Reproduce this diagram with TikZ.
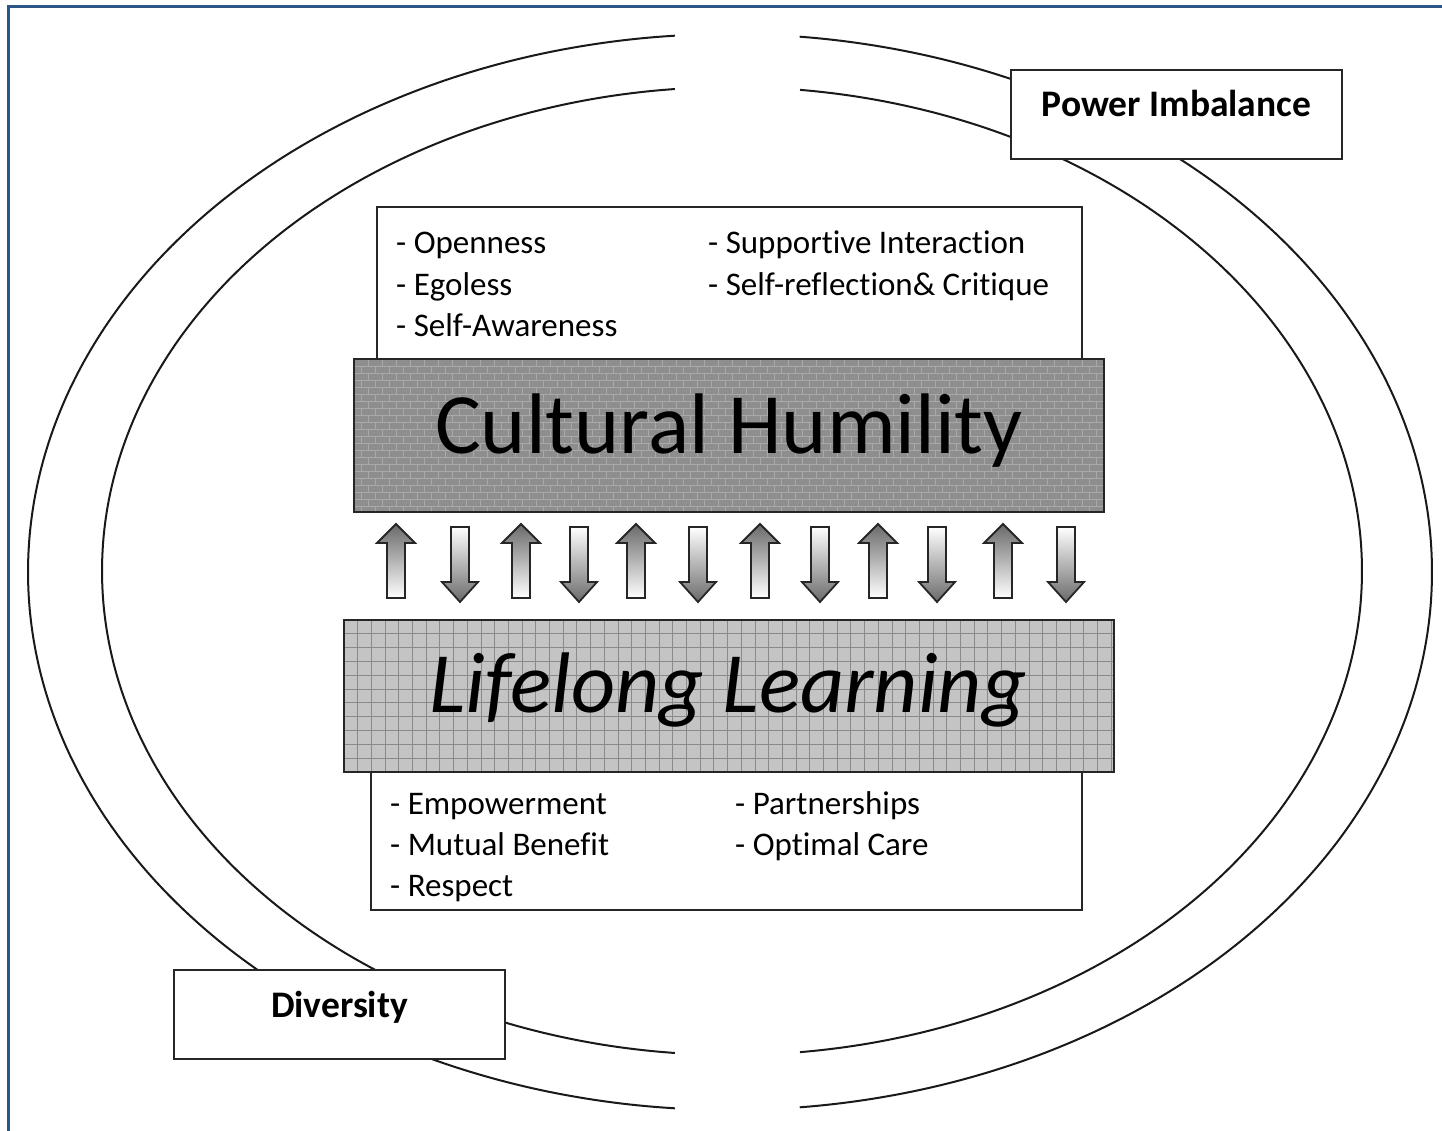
\documentclass[tikz,border=0pt]{standalone}
\usepackage{fontspec}
\setmainfont{Carlito}[Ligatures={NoCommon}]
\definecolor{framec}{HTML}{2D5689}
\definecolor{chfill}{HTML}{8E8E8E}
\definecolor{brickc}{HTML}{A9A9A9}
\definecolor{llfill}{HTML}{C4C4C4}
\definecolor{gridc}{HTML}{8A8A8A}
\definecolor{arrowdark}{HTML}{6A6A6A}
\begin{document}
\begin{tikzpicture}[x=1pt,y=-1pt,
  ring/.style={line width=2pt, black!90},
  boxstyle/.style={draw=black!85, line width=2.2pt, fill=white, inner sep=0pt},
  outline/.style={draw=black!85, line width=2.2pt, inner sep=0pt},
  labelfont/.style={font=\fontsize{37.5}{44}\selectfont\bfseries, inner sep=0pt},
  itemfont/.style={font=\fontsize{33}{40}\selectfont, inner sep=0pt, anchor=base west},
  bigfont/.style={font=\fontsize{86}{100}\selectfont, inner sep=0pt, anchor=base},
  brickline/.style={brickc, line width=0.9pt},
  gridline/.style={gridc, line width=1pt},
  arrowshape/.style={draw=black!85, line width=1.8pt, line join=miter}
]
\useasboundingbox (0,0) rectangle (1442,1131);

% frame
\draw[framec, line width=3pt] (1442,7) -- (8,7) -- (8,1131);

% broken ellipses
\draw[ring] plot[domain=94.5:265.5, samples=150, smooth] ({730+702*cos(\x)},{572+538*sin(\x)});
\draw[ring] plot[domain=-84.3:84.3, samples=150, smooth] ({730+702*cos(\x)},{572+538*sin(\x)});
\draw[ring] plot[domain=95.2:264.8, samples=150, smooth] ({732+630*cos(\x)},{571+484*sin(\x)});
\draw[ring] plot[domain=-83.8:83.8, samples=150, smooth] ({732+630*cos(\x)},{571+484*sin(\x)});

% label boxes
\node[boxstyle, minimum width=331pt, minimum height=89pt] (pibox) at (1176.5,114.5) {};
\node[labelfont, anchor=base] (pitext) at (1176.5,117) {Power Imbalance};
\node[boxstyle, minimum width=331pt, minimum height=89pt] (divbox) at (339.5,1014.5) {};
\node[labelfont, anchor=base] (divtext) at (339.5,1017) {Diversity};

% top text box
\node[boxstyle, minimum width=705pt, minimum height=160pt] (topbox) at (729.5,287) {};
\node[itemfont] (t1) at (396,254) {- Openness};
\node[itemfont] (t2) at (396,296) {- Egoless};
\node[itemfont] (t3) at (396,337) {- Self-Awareness};
\node[itemfont] (t4) at (708,254) {- Supportive Interaction};
\node[itemfont] (t5) at (708,296) {- Self-reflection\& Critique};

% bottom text box
\node[boxstyle, minimum width=711pt, minimum height=145pt] (botbox) at (726.5,837.5) {};
\node[itemfont] (b1) at (390,814) {- Empowerment};
\node[itemfont] (b2) at (390,855) {- Mutual Benefit};
\node[itemfont] (b3) at (390,896) {- Respect};
\node[itemfont] (b4) at (735,814) {- Partnerships};
\node[itemfont] (b5) at (735,855) {- Optimal Care};

% Cultural Humility box with brick texture
\begin{scope}
  \clip (354,359) rectangle (1104,512);
  \fill[chfill] (354,359) rectangle (1104,512);
  \foreach \r in {0,...,22} {
    \pgfmathsetmacro\yy{359+7*\r}
    \pgfmathsetmacro\off{mod(\r,2)*7}
    \draw[brickline] (354,\yy) -- (1104,\yy);
    \foreach \c in {0,...,54} {
      \draw[brickline] ({354+\off+14*\c},\yy) -- ++(0,7);
    }
  }
\end{scope}
\node[outline, minimum width=750pt, minimum height=153pt] (chbox) at (729,435.5) {};
\node[bigfont] (chtext) at (729,453) {Cultural Humility};

% Lifelong Learning box with grid texture
\begin{scope}
  \clip (344,620) rectangle (1114,772);
  \fill[llfill] (344,620) rectangle (1114,772);
  \foreach \i in {0,...,57} {
    \draw[gridline] ({344+13.7*\i},620) -- ++(0,152);
  }
  \foreach \j in {0,...,11} {
    \draw[gridline] (344,{620+13.8*\j}) -- ++(770,0);
  }
\end{scope}
\node[outline, minimum width=770pt, minimum height=152pt] (llbox) at (729,696) {};
\node[bigfont, font=\fontsize{86}{100}\selectfont\itshape] (lltext) at (728,712) {Lifelong Learning};

% arrows
\foreach \cx in {396,521,636,760,878,1003} {
  \shadedraw[arrowshape, top color=arrowdark, bottom color=white]
    (\cx-9,598) -- (\cx-9,543) -- (\cx-19,543) -- (\cx,524) -- (\cx+19,543)
    -- (\cx+9,543) -- (\cx+9,598) -- cycle;
}
\foreach \cx in {460,579,698,820,937,1066} {
  \shadedraw[arrowshape, top color=white, bottom color=arrowdark]
    (\cx-9,527) -- (\cx+9,527) -- (\cx+9,582) -- (\cx+18,582) -- (\cx,602)
    -- (\cx-18,582) -- (\cx-9,582) -- cycle;
}
\end{tikzpicture}
\end{document}
